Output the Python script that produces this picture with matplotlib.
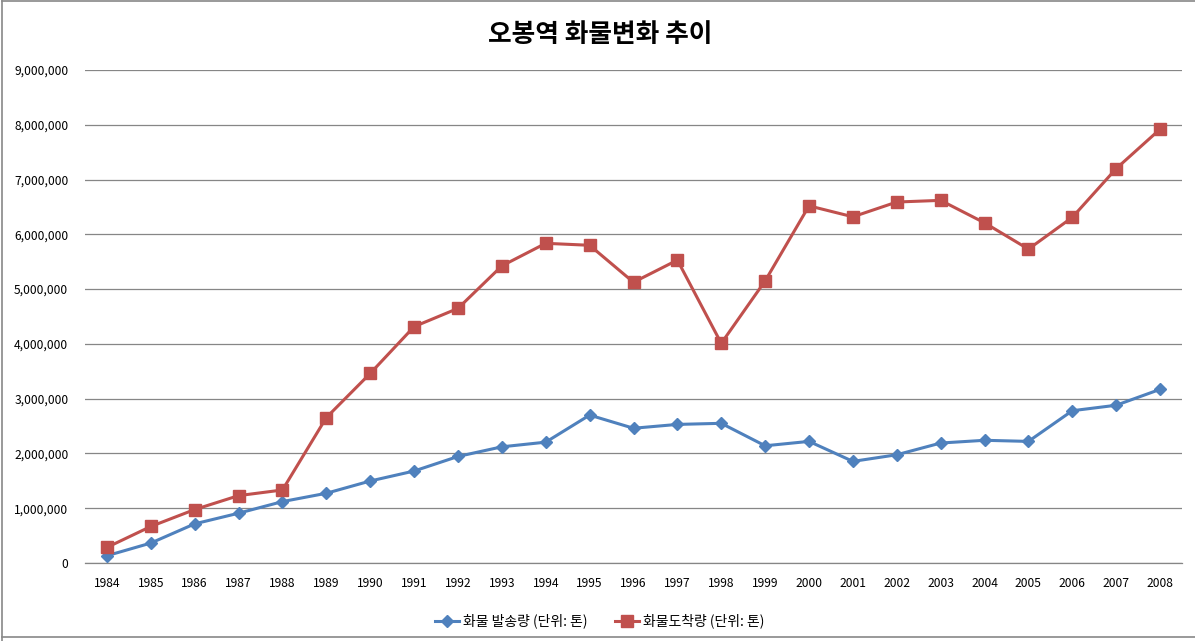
import matplotlib
matplotlib.use('Agg')
import matplotlib.pyplot as plt
from matplotlib.ticker import FuncFormatter, MultipleLocator
from matplotlib.lines import Line2D

plt.rcParams['font.family'] = ['Noto Sans CJK KR', 'DejaVu Sans']

# Data
years = [str(y) for y in range(1984, 2009)]
shipped = [133000, 364000, 715000, 909000, 1121000, 1273000, 1497000, 1679000,
           1945000, 2121000, 2206000, 2700000, 2460000, 2530000, 2550000,
           2140000, 2220000, 1855000, 1976000, 2190000, 2240000, 2220000,
           2780000, 2880000, 3170000]
arrived = [285000, 667000, 976000, 1230000, 1333000, 2655000, 3461000, 4315000,
           4648000, 5424000, 5836000, 5800000, 5125000, 5530000, 4010000,
           5150000, 6520000, 6320000, 6590000, 6620000, 6210000, 5730000,
           6310000, 7200000, 7920000]
series_names = ['화물 발송량 (단위: 톤)', '화물도착량 (단위: 톤)']
title = '오봉역 화물변화 추이'

blue = '#4F81BD'
red = '#C0504D'

fig = plt.figure(figsize=(11.95, 6.41), dpi=100)
ax = fig.add_axes([85 / 1195, 1 - 563 / 641, 1097 / 1195, 493 / 641])

x = list(range(len(years)))
ax.plot(x, shipped, color=blue, lw=2.2, marker='D', markersize=6,
        label=series_names[0], zorder=3)
ax.plot(x, arrived, color=red, lw=2.2, marker='s', markersize=9,
        label=series_names[1], zorder=3)

ax.set_xlim(-0.5, len(years) - 0.5)
ax.set_ylim(0, 9000000)
ax.yaxis.set_major_locator(MultipleLocator(1000000))
ax.yaxis.set_major_formatter(FuncFormatter(lambda v, p: f'{int(v):,}'))
ax.set_xticks(x)
ax.set_xticklabels(years)
ax.tick_params(axis='both', length=0, labelsize=8.7)
ax.tick_params(axis='y', pad=12)
ax.tick_params(axis='x', pad=10)
ax.grid(axis='y', color='#868686', lw=0.9)
ax.set_axisbelow(True)
for side in ['top', 'left', 'right']:
    ax.spines[side].set_visible(False)
ax.spines['bottom'].set_color('#868686')
ax.spines['bottom'].set_linewidth(0.9)

fig.text(0.502, 1 - 35 / 641, title, ha='center', va='center',
         fontsize=18.5, fontweight='bold')

handles = [Line2D([0], [0], color=blue, lw=2.2, marker='D', markersize=6),
           Line2D([0], [0], color=red, lw=2.2, marker='s', markersize=9)]
fig.legend(handles, series_names, loc='center', bbox_to_anchor=(0.502, 1 - 621 / 641),
           ncol=2, frameon=False, fontsize=10, handlelength=1.7,
           handletextpad=0.3, columnspacing=2.0)

# chart-area border
border = dict(color='#888888', lw=1.2, transform=fig.transFigure)
fig.add_artist(Line2D([2 / 1195, 2 / 1195], [0.5 / 641, 1 - 1 / 641], **border))
fig.add_artist(Line2D([2 / 1195, 1], [1 - 1 / 641, 1 - 1 / 641], **border))
fig.add_artist(Line2D([2 / 1195, 1], [4 / 641, 4 / 641], **border))

fig.savefig('out.png', dpi=100)
